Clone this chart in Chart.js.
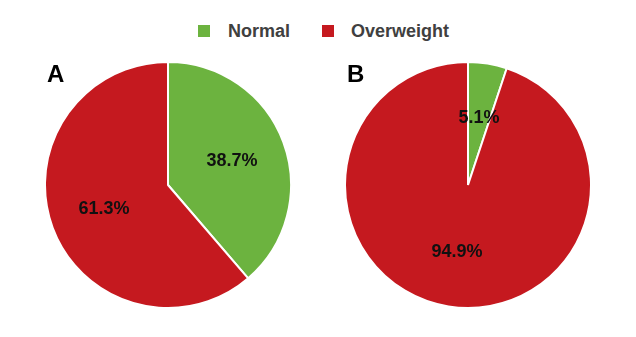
<!DOCTYPE html>
<html>
<head>
<meta charset="utf-8">
<script src="https://cdn.jsdelivr.net/npm/chart.js@4"></script>
<style>
  body { margin: 0; background: #fff; width: 636px; height: 337px; position: relative; overflow: hidden; font-family: "Liberation Sans", Arial, sans-serif; }
  .box { position: absolute; }
  .sq { position: absolute; width: 12px; height: 12px; top: 25px; }
  .leg { position: absolute; top: 22px; font-size: 18px; line-height: 18px; font-weight: bold; color: #404040; white-space: nowrap; }
  .panel { position: absolute; top: 62px; font-size: 24px; line-height: 24px; font-weight: bold; color: #000; }
</style>
</head>
<body>
<div class="sq" style="left:198px;background:#6cb33f"></div>
<div class="leg" style="left:228px">Normal</div>
<div class="sq" style="left:322px;background:#c5191f"></div>
<div class="leg" style="left:351px">Overweight</div>

<div class="box" style="left:44px;top:61px"><canvas id="pieA" width="248" height="248"></canvas></div>
<div class="box" style="left:344px;top:61px"><canvas id="pieB" width="248" height="248"></canvas></div>

<div class="panel" style="left:47px">A</div>
<div class="panel" style="left:347px">B</div>

<script>
const categories = ['Normal', 'Overweight'];
const valuesA = [38.7, 61.3];
const valuesB = [5.1, 94.9];
const colors = ['#6cb33f', '#c5191f'];

// draws the percent text inside each slice
const sliceLabels = {
  id: 'sliceLabels',
  afterDatasetsDraw(chart) {
    let ctx = chart.ctx;
    let meta = chart.getDatasetMeta(0);
    let data = chart.data.datasets[0].data;
    ctx.save();
    ctx.font = 'bold 18px "Liberation Sans", Arial, sans-serif';
    ctx.fillStyle = '#111';
    ctx.textAlign = 'center';
    ctx.textBaseline = 'middle';
    for (let i = 0; i < meta.data.length; i++) {
      let arc = meta.data[i];
      let p = arc.getProps(['x', 'y', 'startAngle', 'endAngle', 'outerRadius'], true);
      let mid = (p.startAngle + p.endAngle) / 2;
      let r = p.outerRadius * 0.555;
      ctx.fillText(data[i].toFixed(1) + '%', p.x + Math.cos(mid) * r, p.y + Math.sin(mid) * r);
    }
    ctx.restore();
  }
};

function makePie(id, values) {
  return new Chart(document.getElementById(id), {
    type: 'pie',
    data: {
      labels: categories,
      datasets: [{
        data: values,
        backgroundColor: colors,
        borderColor: '#fff',
        borderWidth: 2
      }]
    },
    options: {
      responsive: false,
      animation: false,
      layout: { padding: 0 },
      plugins: {
        legend: { display: false },
        tooltip: { enabled: false }
      }
    },
    plugins: [sliceLabels]
  });
}

makePie('pieA', valuesA);
makePie('pieB', valuesB);
</script>
</body>
</html>
